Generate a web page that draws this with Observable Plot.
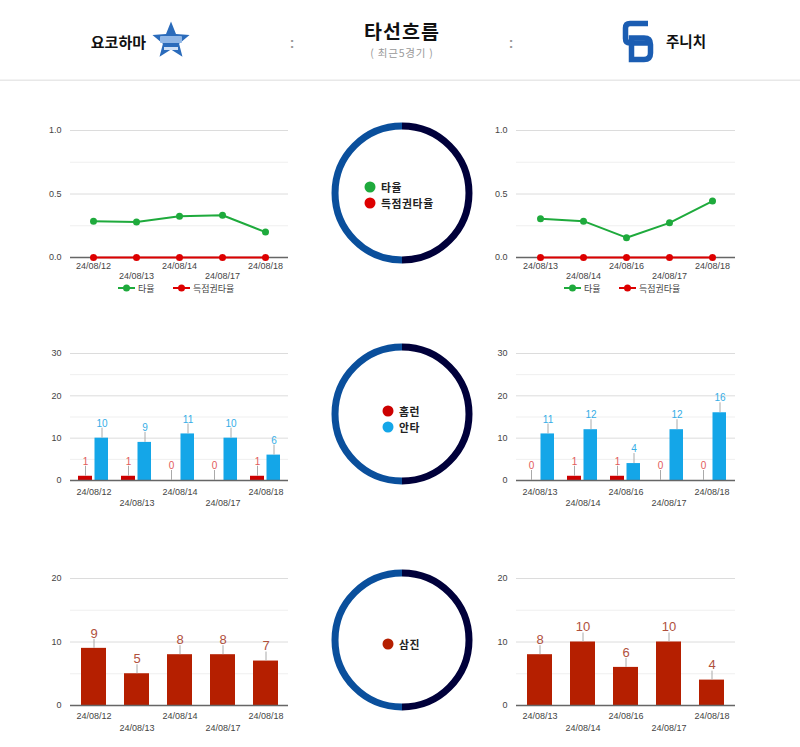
<!DOCTYPE html>
<html>
<head>
<meta charset="utf-8">
<script src="https://cdn.jsdelivr.net/npm/d3@7"></script>
<script src="https://cdn.jsdelivr.net/npm/@observablehq/plot@0.6"></script>
<style>
  html, body { margin: 0; padding: 0; background: #fff; }
  #page { position: relative; width: 800px; height: 747px; overflow: hidden; background: #fff;
          font-family: "Noto Sans CJK KR", "Noto Sans", sans-serif; }
  .abs { position: absolute; }
  .chart svg { display: block; }
</style>
</head>
<body>
<div id="page">
  <svg id="overlay" class="abs" style="left:0;top:0" width="800" height="747"></svg>
</div>
<script>
// ---------- data ----------
const teamLeft = "요코하마";
const teamRight = "주니치";
const title = "타선흐름";
const subtitle = "( 최근5경기 )";

const leftDates  = ["24/08/12", "24/08/13", "24/08/14", "24/08/17", "24/08/18"];
const rightDates = ["24/08/13", "24/08/14", "24/08/16", "24/08/17", "24/08/18"];

const leftAvg   = [0.286, 0.280, 0.324, 0.333, 0.200];
const leftRisp  = [0, 0, 0, 0, 0];
const rightAvg  = [0.306, 0.286, 0.156, 0.273, 0.444];
const rightRisp = [0, 0, 0, 0, 0];

const leftHR    = [1, 1, 0, 0, 1];
const leftHits  = [10, 9, 11, 10, 6];
const rightHR   = [0, 1, 1, 0, 0];
const rightHits = [11, 12, 4, 12, 16];

const leftSO  = [9, 5, 8, 8, 7];
const rightSO = [8, 10, 6, 10, 4];

const avgTicks = [0, 0.5, 1];
const avgMinor = [0.25, 0.75];
const hitTicks = [0, 10, 20, 30];
const hitMinor = [5, 15, 25];
const soTicks = [0, 10, 20];
const soMinor = [5, 15];

const seriesNames = { avg: "타율", risp: "득점권타율", hr: "홈런", hits: "안타", so: "삼진" };

// ---------- styles ----------
const GREEN = "#1eaa3c", RED = "#dd0000";
const HR_BAR = "#cc0000", HIT_BAR = "#14a6e8";
const HR_LAB = "#e25a5a", HIT_LAB = "#35ade6";
const SO_BAR = "#b51f00", SO_LAB = "#b0503c";
const AX = "#444";
const NUMFONT = "Liberation Sans, Arial, sans-serif";
const KFONT = "Noto Sans CJK KR, Noto Sans, sans-serif";

const page = document.getElementById("page");
function place(node, left, top) {
  const d = document.createElement("div");
  d.className = "abs chart";
  d.style.left = left + "px"; d.style.top = top + "px";
  d.appendChild(node);
  page.appendChild(d);
}
const even = (arr) => arr.filter((_, i) => i % 2 === 0);
const odd = (arr) => arr.filter((_, i) => i % 2 === 1);

function commonAxes(dates, ticks, minor, fmt, pad1, pad2) {
  return [
    Plot.gridY(minor, {stroke: "#efefef", strokeOpacity: 1}),
    Plot.gridY(ticks.filter(t => t !== 0), {stroke: "#dcdcdc", strokeOpacity: 1}),
    Plot.axisY(ticks, {tickSize: 0, tickPadding: 9, tickFormat: fmt, fontSize: 9, fill: AX, fontFamily: NUMFONT}),
    Plot.axisX(even(dates), {tickSize: 0, tickPadding: pad1, fontSize: 9, fill: AX, fontFamily: NUMFONT}),
    Plot.axisX(odd(dates), {tickSize: 0, tickPadding: pad2, fontSize: 9, fill: AX, fontFamily: NUMFONT})
  ];
}

function lineChart(dates, avg, risp, width, ml) {
  const data = dates.map((d, i) => ({date: d, avg: avg[i], risp: risp[i]}));
  return Plot.plot({
    width, height: 180, marginLeft: ml, marginRight: 12, marginTop: 20, marginBottom: 33,
    style: {fontFamily: NUMFONT, fontSize: "9px", color: AX, background: "transparent"},
    x: {type: "point", domain: dates, padding: 0.5, label: null},
    y: {domain: [0, 1], label: null},
    marks: [
      ...commonAxes(dates, avgTicks, avgMinor, d3.format(".1f"), 5, 15.5),
      Plot.ruleY([0], {stroke: "#666", strokeWidth: 1.5}),
      Plot.line(data, {x: "date", y: "avg", stroke: GREEN, strokeWidth: 2}),
      Plot.dot(data, {x: "date", y: "avg", fill: GREEN, r: 3.5}),
      Plot.line(data, {x: "date", y: "risp", stroke: RED, strokeWidth: 2}),
      Plot.dot(data, {x: "date", y: "risp", fill: RED, r: 3.5})
    ]
  });
}

function hitChart(dates, hr, hits, width, ml) {
  const data = dates.map((d, i) => ({date: d, hr: hr[i], hits: hits[i]}));
  return Plot.plot({
    width, height: 177, marginLeft: ml, marginRight: 12, marginTop: 20, marginBottom: 30,
    style: {fontFamily: NUMFONT, fontSize: "9px", color: AX, background: "transparent"},
    x: {type: "band", domain: dates, padding: 0, label: null},
    y: {domain: [0, 30], label: null},
    marks: [
      ...commonAxes(dates, hitTicks, hitMinor, d3.format("d"), 8, 19.5),
      Plot.barY(data, {x: "date", y: "hr", fill: HR_BAR, insetLeft: 6, insetRight: 23}),
      Plot.barY(data, {x: "date", y: "hits", fill: HIT_BAR, insetLeft: 22.5, insetRight: 7}),
      Plot.ruleY([0], {stroke: "#666", strokeWidth: 1.5}),
      Plot.ruleX(data, {x: "date", y1: "hr", y2: "hr", insetTop: -10, dx: -8.5, stroke: "#aaa"}),
      Plot.ruleX(data, {x: "date", y1: "hits", y2: "hits", insetTop: -10, dx: 8, stroke: "#aaa"}),
      Plot.text(data, {x: "date", y: "hr", text: "hr", dx: -8.5, dy: -14.5, fill: HR_LAB, fontSize: 10, fontFamily: NUMFONT}),
      Plot.text(data, {x: "date", y: "hits", text: "hits", dx: 8, dy: -14.5, fill: HIT_LAB, fontSize: 10, fontFamily: NUMFONT})
    ]
  });
}

function soChart(dates, so, width, ml) {
  const data = dates.map((d, i) => ({date: d, so: so[i]}));
  return Plot.plot({
    width, height: 179, marginLeft: ml, marginRight: 12, marginTop: 20, marginBottom: 32,
    style: {fontFamily: NUMFONT, fontSize: "9px", color: AX, background: "transparent"},
    x: {type: "band", domain: dates, paddingInner: 0.43, paddingOuter: 0.215, label: null},
    y: {domain: [0, 20], label: null},
    marks: [
      ...commonAxes(dates, soTicks, soMinor, d3.format("d"), 7.5, 19.5),
      Plot.barY(data, {x: "date", y: "so", fill: SO_BAR}),
      Plot.ruleY([0], {stroke: "#666", strokeWidth: 1.5}),
      Plot.ruleX(data, {x: "date", y1: "so", y2: "so", insetTop: -9, stroke: "#aaa"}),
      Plot.text(data, {x: "date", y: "so", text: "so", dy: -15, fill: SO_LAB, fontSize: 13, fontFamily: NUMFONT})
    ]
  });
}

place(lineChart(leftDates, leftAvg, leftRisp, 270, 40), 30, 110);
place(lineChart(rightDates, rightAvg, rightRisp, 257, 26), 490, 110);
place(hitChart(leftDates, leftHR, leftHits, 270, 40), 30, 333);
place(hitChart(rightDates, rightHR, rightHits, 257, 26), 490, 333);
place(soChart(leftDates, leftSO, 270, 40), 30, 558);
place(soChart(rightDates, rightSO, 257, 26), 490, 558);

// ---------- overlay: header, rings, legends ----------
const ov = d3.select("#overlay");
ov.append("rect").attr("x", 0).attr("y", 79.5).attr("width", 800).attr("height", 1.5).attr("fill", "#e8e8e8");

function txt(x, y, s, o = {}) {
  return ov.append("text").attr("x", x).attr("y", y).text(s)
    .attr("font-family", o.font || KFONT).attr("font-size", o.size || 12)
    .attr("font-weight", o.weight || "normal").attr("fill", o.fill || "#111")
    .attr("letter-spacing", o.ls || 0)
    .attr("text-anchor", o.anchor || "start").attr("dominant-baseline", o.baseline || "central");
}
txt(146, 41, teamLeft, {size: 15, weight: "bold", anchor: "end"});
txt(292, 43, ":", {size: 14, weight: "bold", fill: "#999", anchor: "middle", font: NUMFONT});
txt(402, 38.5, title, {size: 19.5, weight: "bold", anchor: "middle", baseline: "alphabetic", ls: 1});
txt(402, 57, subtitle, {size: 10.5, fill: "#999", anchor: "middle", baseline: "alphabetic", ls: 0.8});
txt(511, 43, ":", {size: 14, weight: "bold", fill: "#999", anchor: "middle", font: NUMFONT});
txt(666, 40, teamRight, {size: 14.5, weight: "bold"});

// star logo
const star = d3.range(10).map(i => {
  const a = -Math.PI / 2 + i * Math.PI / 5, r = i % 2 ? 8.5 : 19.5;
  return [171 + r * Math.cos(a), 41 + r * Math.sin(a)];
});
ov.append("polygon").attr("points", star.map(p => p.join(",")).join(" ")).attr("fill", "#2a6bbb");
ov.append("rect").attr("x", 160).attr("y", 36).attr("width", 22).attr("height", 7).attr("fill", "#8fb6e6").attr("rx", 1);
ov.append("rect").attr("x", 164).attr("y", 47).attr("width", 14).attr("height", 3).attr("fill", "#cfe0f5");

// CD logo
ov.append("path").attr("d", "M648,23.5 H630 Q625.5,23.5 625.5,28 V38.5 Q625.5,43 630,43 H648")
  .attr("fill", "none").attr("stroke", "#1b5db2").attr("stroke-width", 5.5);
ov.append("path").attr("d", "M631.5,38 V59.5 H644 Q650.5,59.5 650.5,53 V44.5 Q650.5,38 644,38 Z")
  .attr("fill", "none").attr("stroke", "#1b5db2").attr("stroke-width", 5.5);

// rings
function ring(cx, cy) {
  const r = 67;
  ov.append("path").attr("d", `M${cx},${cy - r} A${r},${r} 0 0 0 ${cx},${cy + r}`)
    .attr("fill", "none").attr("stroke", "#0a4f9c").attr("stroke-width", 7);
  ov.append("path").attr("d", `M${cx},${cy - r} A${r},${r} 0 0 1 ${cx},${cy + r}`)
    .attr("fill", "none").attr("stroke", "#00003a").attr("stroke-width", 7);
}
ring(402, 193); ring(402, 414); ring(402, 640);

function ringLegend(x, y, color, label) {
  ov.append("circle").attr("cx", x).attr("cy", y).attr("r", 5.5).attr("fill", color);
  txt(x + 11, y, label, {size: 10.8, weight: "bold", fill: "#222", ls: 0.6});
}
ringLegend(370, 187, GREEN, seriesNames.avg);
ringLegend(370, 203, RED, seriesNames.risp);
ringLegend(388, 411, HR_BAR, seriesNames.hr);
ringLegend(388, 427, HIT_BAR, seriesNames.hits);
ringLegend(388, 644, SO_BAR, seriesNames.so);

// line chart legends
function lineLegend(x, y, color, label) {
  ov.append("line").attr("x1", x).attr("x2", x + 17).attr("y1", y).attr("y2", y).attr("stroke", color).attr("stroke-width", 2);
  ov.append("circle").attr("cx", x + 8.5).attr("cy", y).attr("r", 3.5).attr("fill", color);
  txt(x + 20, y, label, {size: 9, fill: AX});
}
lineLegend(118, 288, GREEN, seriesNames.avg);
lineLegend(173, 288, RED, seriesNames.risp);
lineLegend(564, 288, GREEN, seriesNames.avg);
lineLegend(619, 288, RED, seriesNames.risp);
</script>
</body>
</html>
